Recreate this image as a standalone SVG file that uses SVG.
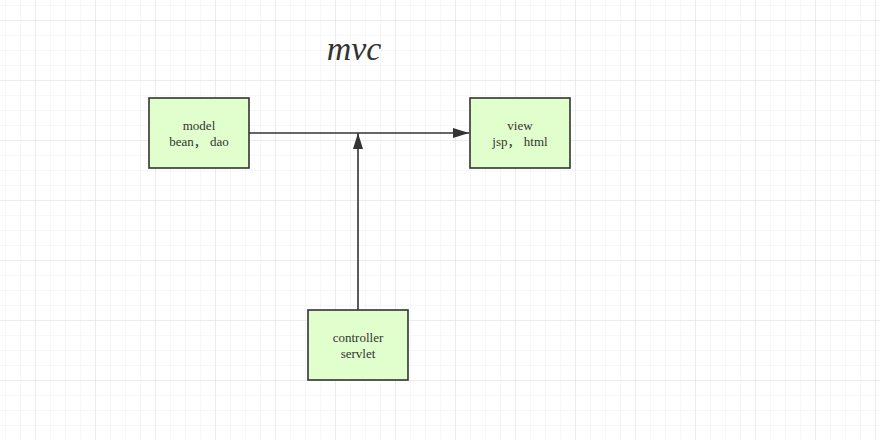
<svg xmlns="http://www.w3.org/2000/svg" width="880" height="440" viewBox="0 0 880 440">
<defs>
<pattern id="minor" width="15" height="15" patternUnits="userSpaceOnUse" x="5" y="5">
<path d="M0 0 H15 M0 0 V15" fill="none" stroke="#efefef" stroke-width="1"/>
</pattern>
<pattern id="major" width="60" height="60" patternUnits="userSpaceOnUse" x="35" y="20">
<path d="M0 0 H60 M0 0 V60" fill="none" stroke="#e2e2e2" stroke-width="1"/>
</pattern>
<marker id="arr" viewBox="0 0 16 10" refX="16" refY="5" markerWidth="16" markerHeight="10" markerUnits="userSpaceOnUse" orient="auto">
<path d="M0 0 L16 5 L0 10 Z" fill="#333"/>
</marker>
<style>
.box{fill:#e0ffcc;stroke:#333;stroke-width:1.6}
.lbl{font-family:"Liberation Serif","Noto Sans CJK SC","Times New Roman",serif;font-size:13px;fill:#333;text-anchor:middle}
.edge{fill:none;stroke:#333;stroke-width:1.6}
</style>
</defs>
<rect width="880" height="440" fill="#fff"/>
<rect width="880" height="440" fill="url(#minor)"/>
<rect width="880" height="440" fill="url(#major)"/>
<text x="354" y="60" font-family="Liberation Serif, serif" font-style="italic" font-size="34" fill="#333" text-anchor="middle">mvc</text>
<g id="connectors">
<path class="edge" d="M249 133 H469" marker-end="url(#arr)"/>
<path class="edge" d="M358 310 V133" marker-end="url(#arr)"/>
</g>
<g id="model">
<rect class="box" x="149" y="98" width="100" height="70"/>
<text class="lbl" x="199" y="130">model</text>
<text class="lbl" x="199" y="146">bean， dao</text>
</g>
<g id="view">
<rect class="box" x="470" y="98" width="100" height="70"/>
<text class="lbl" x="520" y="130">view</text>
<text class="lbl" x="520" y="146">jsp， html</text>
</g>
<g id="controller">
<rect class="box" x="308" y="310" width="100" height="70"/>
<text class="lbl" x="358" y="342">controller</text>
<text class="lbl" x="358" y="358">servlet</text>
</g>
</svg>
